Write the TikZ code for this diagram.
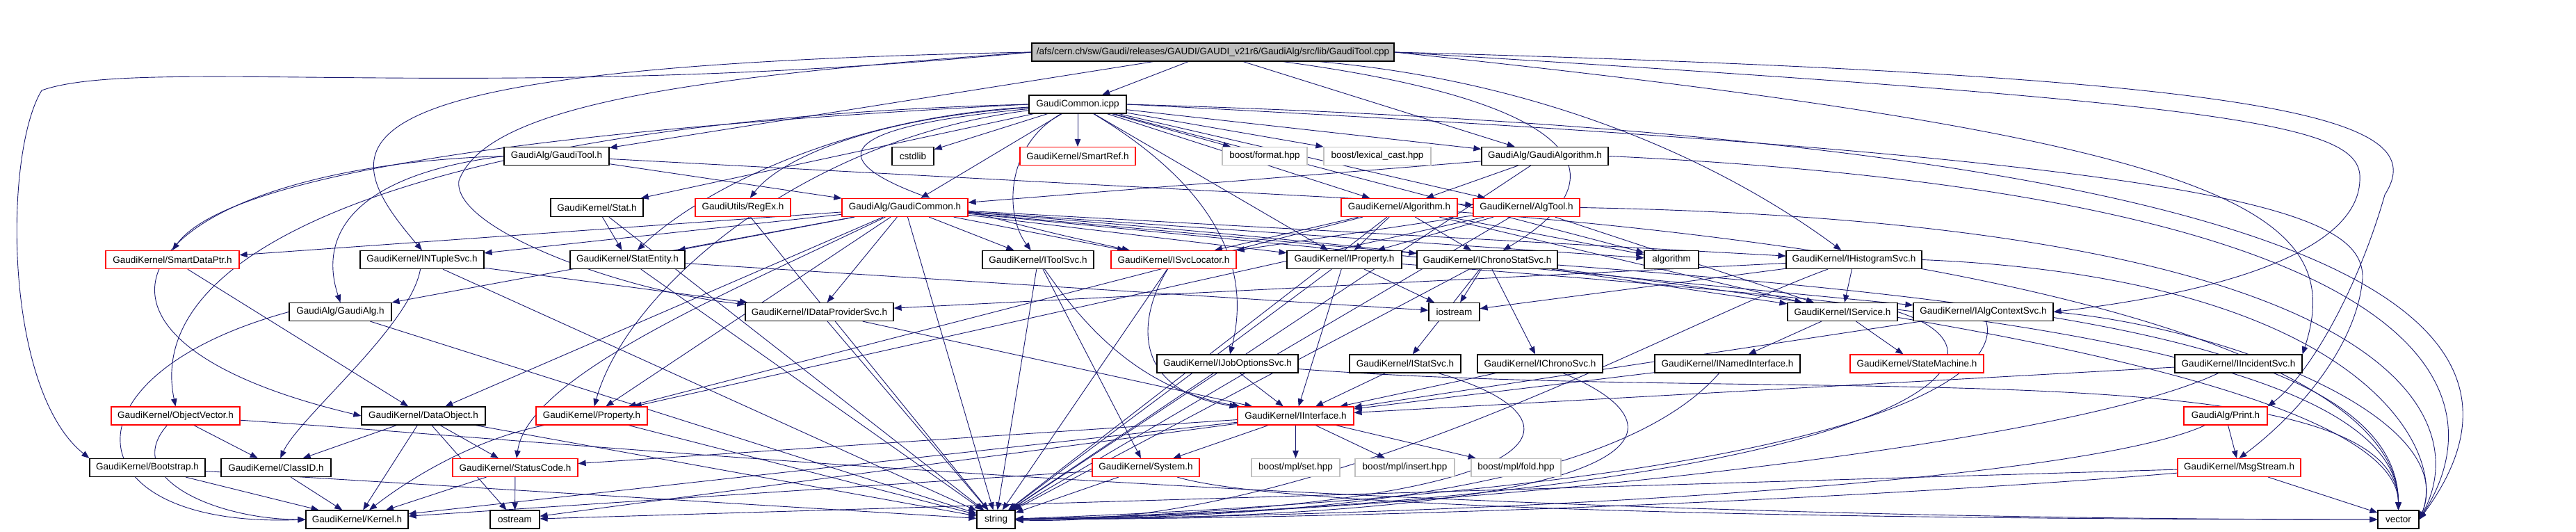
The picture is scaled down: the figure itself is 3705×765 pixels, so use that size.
\documentclass[tikz,border=0pt]{standalone}
\usepackage{fontspec}
\setmainfont{Liberation Sans}
\usetikzlibrary{arrows.meta}
\definecolor{edgeblue}{RGB}{25,25,112}
\definecolor{extgray}{RGB}{191,191,191}
\definecolor{rootgray}{RGB}{191,191,191}
\pgfdeclarelayer{edges}
\pgfsetlayers{edges,main}
\begin{document}
\begin{tikzpicture}[x=1pt, y=-1pt,
    >={Triangle[length=11pt,width=8.5pt]},
    file/.style={draw=black, fill=white, line width=1.2pt, minimum height=26pt,
      inner xsep=0pt, inner ysep=0pt, font=\fontsize{13.5}{16}\selectfont},
    trunc/.style={file, draw=red},
    ext/.style={file, draw=extgray},
    dep/.style={->, edgeblue, line width=0.9pt}]
    \useasboundingbox (0,0) rectangle (3705,765);

    % Source file and included implementation
    \node[file, fill=rootgray, minimum width=521pt] (root) at (1744.5,75) {/afs/cern.ch/sw/Gaudi/releases/GAUDI/GAUDI\_v21r6/GaudiAlg/src/lib/GaudiTool.cpp};
    \node[file, minimum width=140pt] (icpp) at (1550,150) {GaudiCommon.icpp};

    % Second rank
    \node[file, minimum width=151pt] (gtool) at (800.5,224.5) {GaudiAlg/GaudiTool.h};
    \node[file, minimum width=60pt] (cstdlib) at (1313,224.5) {cstdlib};
    \node[trunc, minimum width=166pt] (smartref) at (1550,224.5) {GaudiKernel/SmartRef.h};
    \node[ext, minimum width=122pt] (bformat) at (1819,224.5) {boost/format.hpp};
    \node[ext, minimum width=154pt] (blexcast) at (1981,224.5) {boost/lexical\_cast.hpp};
    \node[file, minimum width=182pt] (galgorithm) at (2222,224.5) {GaudiAlg/GaudiAlgorithm.h};

    % Third rank
    \node[file, minimum width=133pt] (stat) at (858.5,298.5) {GaudiKernel/Stat.h};
    \node[trunc, minimum width=137pt] (regex) at (1068.5,298.5) {GaudiUtils/RegEx.h};
    \node[trunc, minimum width=181pt] (gcommon) at (1301.5,298.5) {GaudiAlg/GaudiCommon.h};
    \node[trunc, minimum width=167pt] (algh) at (2012.5,298.5) {GaudiKernel/Algorithm.h};
    \node[trunc, minimum width=153pt] (algtool) at (2195.5,298.5) {GaudiKernel/AlgTool.h};

    % Fourth rank
    \node[trunc, minimum width=192pt] (smartdataptr) at (248,373.5) {GaudiKernel/SmartDataPtr.h};
    \node[file, minimum width=178pt] (intuple) at (607,373.5) {GaudiKernel/INTupleSvc.h};
    \node[file, minimum width=165pt] (statentity) at (902.5,373.5) {GaudiKernel/StatEntity.h};
    \node[file, minimum width=160pt] (itoolsvc) at (1493,373.5) {GaudiKernel/IToolSvc.h};
    \node[trunc, minimum width=180pt] (isvcloc) at (1688,373.5) {GaudiKernel/ISvcLocator.h};
    \node[file, minimum width=165pt] (iproperty) at (1933.5,373.5) {GaudiKernel/IProperty.h};
    \node[file, minimum width=202pt] (ichronostat) at (2139,373.5) {GaudiKernel/IChronoStatSvc.h};
    \node[file, minimum width=78pt] (stdalgo) at (2404,373.5) {algorithm};
    \node[file, minimum width=195pt] (ihisto) at (2666.5,373.5) {GaudiKernel/IHistogramSvc.h};

    % Fifth rank
    \node[file, minimum width=147pt] (gaudialg) at (489.5,448.5) {GaudiAlg/GaudiAlg.h};
    \node[file, minimum width=213pt] (idataprov) at (1178.5,448.5) {GaudiKernel/IDataProviderSvc.h};
    \node[file, minimum width=73pt] (iostream) at (2091.5,448.5) {iostream};
    \node[file, minimum width=158pt] (iservice) at (2650,448.5) {GaudiKernel/IService.h};
    \node[file, minimum width=201pt] (ialgctx) at (2852.5,448.5) {GaudiKernel/IAlgContextSvc.h};

    % Sixth rank
    \node[file, minimum width=203pt] (ijobopt) at (1765.5,523) {GaudiKernel/IJobOptionsSvc.h};
    \node[file, minimum width=160pt] (istatsvc) at (2021,523) {GaudiKernel/IStatSvc.h};
    \node[file, minimum width=180pt] (ichronosvc) at (2215,523) {GaudiKernel/IChronoSvc.h};
    \node[file, minimum width=209pt] (inamed) at (2484.5,523) {GaudiKernel/INamedInterface.h};
    \node[trunc, minimum width=192pt] (statemach) at (2757,523) {GaudiKernel/StateMachine.h};
    \node[file, minimum width=183pt] (iincident) at (3219.5,523) {GaudiKernel/IIncidentSvc.h};

    % Seventh rank
    \node[trunc, minimum width=185pt] (objvector) at (252.5,598) {GaudiKernel/ObjectVector.h};
    \node[file, minimum width=178pt] (dataobject) at (609,598) {GaudiKernel/DataObject.h};
    \node[trunc, minimum width=160pt] (property) at (851,598) {GaudiKernel/Property.h};
    \node[trunc, minimum width=167pt] (iinterface) at (1863.5,598) {GaudiKernel/IInterface.h};
    \node[trunc, minimum width=120pt] (print) at (3201,598) {GaudiAlg/Print.h};

    % Eighth rank
    \node[file, minimum width=166pt] (bootstrap) at (212,672.5) {GaudiKernel/Bootstrap.h};
    \node[file, minimum width=158pt] (classid) at (397,672.5) {GaudiKernel/ClassID.h};
    \node[trunc, minimum width=180pt] (statuscode) at (741,672.5) {GaudiKernel/StatusCode.h};
    \node[trunc, minimum width=154pt] (system) at (1648,672.5) {GaudiKernel/System.h};
    \node[ext, minimum width=127pt] (mplset) at (1863.5,672.5) {boost/mpl/set.hpp};
    \node[ext, minimum width=143pt] (mplinsert) at (2020.5,672.5) {boost/mpl/insert.hpp};
    \node[ext, minimum width=129pt] (mplfold) at (2180.5,672.5) {boost/mpl/fold.hpp};
    \node[trunc, minimum width=177pt] (msgstream) at (3220.5,672.5) {GaudiKernel/MsgStream.h};

    % Bottom rank
    \node[file, minimum width=147pt] (kernel) at (513.5,747) {GaudiKernel/Kernel.h};
    \node[file, minimum width=71pt] (ostream) at (740.5,747) {ostream};
    \node[file, minimum width=55pt] (string) at (1432.5,747) {string};
    \node[file, minimum width=59pt] (vector) at (3449.5,747) {vector};

    \begin{pgfonlayer}{edges}
    % Includes of the source file
    \foreach \t in {icpp,gtool,galgorithm}
        \draw[dep] (root) -- (\t);
    \draw[dep] (root) .. controls (2300,150) and (2330,260) .. (ichronostat);
    \draw[dep] (root) .. controls (2250,120) and (2500,250) .. (ihisto);
    \draw[dep] (root.west) .. controls (450,95) and (470,200) .. (intuple.north);
    \draw[dep] (root.west) .. controls (1000,110) and (700,150) .. (660,260)
        .. controls (650,330) and (900,420) .. (idataprov);
    \draw[dep] (root.west) .. controls (700,150) and (200,80) .. (60,130)
        .. controls (5,220) and (5,560) .. (bootstrap.north west);
    \draw[dep] (root.east) .. controls (3250,150) and (3400,180) .. (3394,260)
        .. controls (3390,360) and (3200,420) .. (ialgctx.east);
    \draw[dep] (root.east) .. controls (3300,110) and (3500,170) .. (3430,280)
        .. controls (3390,420) and (3320,540) .. (print.north east);
    \draw[dep] (root.east) .. controls (3200,200) and (3380,300) .. (iincident.north east);

    % GaudiCommon.icpp
    \foreach \t in {cstdlib,smartref,bformat,blexcast,galgorithm,stat,gcommon,algh,algtool,stdalgo,iproperty}
        \draw[dep] (icpp) -- (\t);
    \draw[dep] (icpp) .. controls (1445,210) and (1445,310) .. (itoolsvc);
    \draw[dep] (icpp) .. controls (1120,190) and (1160,260) .. (isvcloc);
    \draw[dep] (icpp) .. controls (1700,240) and (1810,350) .. (ijobopt);
    \draw[dep] (icpp) .. controls (1250,170) and (1120,230) .. (regex);
    \draw[dep] (icpp) .. controls (1200,170) and (1000,280) .. (statentity);
    \draw[dep] (icpp) .. controls (1150,200) and (900,420) .. (property);
    \draw[dep] (icpp.west) .. controls (700,170) and (200,330) .. (objvector.north);
    \draw[dep] (icpp.west) .. controls (700,190) and (320,260) .. (smartdataptr.north);
    \draw[dep] (icpp.east) .. controls (3200,230) and (3400,300) .. (3398,400)
        .. controls (3390,500) and (3300,600) .. (msgstream.north);
    \draw[dep] (icpp.east) .. controls (3350,200) and (3700,450) .. (vector.east);

    % GaudiAlg headers
    \foreach \t in {gcommon,algtool}
        \draw[dep] (gtool) -- (\t);
    \draw[dep] (gtool.west) .. controls (520,250) and (455,330) .. (gaudialg.north);
    \draw[dep] (gtool.west) .. controls (200,240) and (20,480) .. (dataobject.west);
    \foreach \t in {algh,gcommon,string}
        \draw[dep] (galgorithm) -- (\t);
    \draw[dep] (galgorithm.east) .. controls (3500,280) and (3600,560) .. (vector.east);
    \foreach \t in {gaudialg,intuple,smartdataptr,statentity,itoolsvc,isvcloc,idataprov,ichronostat,
        stdalgo,ihisto,ialgctx,iproperty,property,dataobject,string}
        \draw[dep] (gcommon) -- (\t);
    \draw[dep] (gcommon) .. controls (1050,420) and (760,540) .. (statuscode);
    \draw[dep] (gaudialg.west) .. controls (80,540) and (100,760) .. (kernel.west);
    \draw[dep] (gaudialg) -- (string);
    \draw[dep] (print) -- (msgstream);

    % Algorithm and tool bases
    \foreach \t in {iproperty,ichronostat,isvcloc,property,iservice,stdalgo,string}
        \draw[dep] (algh) -- (\t);
    \foreach \t in {iproperty,isvcloc,iservice,property,string}
        \draw[dep] (algtool) -- (\t);
    \draw[dep] (algtool.east) .. controls (3450,320) and (3560,600) .. (vector.east);

    % Arrivals at vector from above
    \foreach \s in {gcommon,algh,iproperty,ichronostat,ijobopt}
        \draw[dep] (\s) .. controls +(800,60) and +(0,-250) .. (vector);

    % Statistics and data
    \foreach \t in {statentity,string}
        \draw[dep] (stat) -- (\t);
    \draw[dep] (regex) -- (string);
    \foreach \t in {string,iostream}
        \draw[dep] (statentity) -- (\t);
    \draw[dep] (smartdataptr) -- (dataobject);
    \foreach \t in {idataprov,string}
        \draw[dep] (intuple) -- (\t);
    \draw[dep] (intuple) .. controls (590,470) and (430,600) .. (classid);
    \foreach \t in {iinterface,string}
        \draw[dep] (idataprov) -- (\t);
    \draw[dep] (objvector) -- (classid);
    \draw[dep] (objvector) .. controls +(-80,90) and +(-200,0) .. (kernel);
    \draw[dep] (objvector) .. controls +(600,40) and +(-1500,0) .. (vector);
    \foreach \t in {classid,statuscode,ostream,string,kernel}
        \draw[dep] (dataobject) -- (\t);
    \draw[dep] (property) .. controls (690,630) and (600,680) .. (kernel);
    \draw[dep] (property) -- (string);

    % Service interfaces
    \draw[dep] (itoolsvc) .. controls (1560,470) and (1640,560) .. (iinterface);
    \foreach \t in {system,string}
        \draw[dep] (itoolsvc) -- (\t);
    \draw[dep] (isvcloc) .. controls (1640,450) and (1620,560) .. (iinterface);
    \draw[dep] (isvcloc) -- (string);
    \foreach \t in {iinterface,iostream,string}
        \draw[dep] (iproperty) -- (\t);
    \foreach \t in {ichronosvc,istatsvc,iostream,iservice,string}
        \draw[dep] (ichronostat) -- (\t);
    \foreach \t in {iservice,idataprov,iostream}
        \draw[dep] (ihisto) -- (\t);
    \draw[dep] (ihisto.east) .. controls (3400,400) and (3520,650) .. (vector.east);
    \foreach \t in {inamed,statemach}
        \draw[dep] (iservice) -- (\t);
    \draw[dep] (ialgctx) -- (iinterface);
    \draw[dep] (ialgctx.east) .. controls (3200,470) and (3540,600) .. (vector.east);
    \foreach \t in {iinterface,string}
        \draw[dep] (ijobopt) -- (\t);
    \foreach \s in {istatsvc,ichronosvc,inamed,iincident}
        \draw[dep] (\s) -- (iinterface);

    % Arrivals at string along the bottom
    \draw[dep] (ihisto) .. controls (2400,470) and (1900,760) .. (string);
    \draw[dep] (iservice.east) .. controls (2950,520) and (2700,720) .. (string);
    \draw[dep] (ialgctx) .. controls (2880,540) and (2700,700) .. (string);
    \draw[dep] (istatsvc) .. controls (2290,600) and (2280,730) .. (string);
    \draw[dep] (ichronosvc) .. controls (2450,620) and (2380,745) .. (string);
    \draw[dep] (inamed) .. controls (2330,700) and (1900,745) .. (string);
    \draw[dep] (iincident) .. controls (2950,650) and (2000,740) .. (string);
    \draw[dep] (print) .. controls (3000,690) and (2200,740) .. (string);
    \draw[dep] (msgstream) .. controls (2900,700) and (2200,745) .. (string);

    % Kernel basics
    \foreach \t in {kernel,system,statuscode,ostream,mplset,mplinsert,mplfold}
        \draw[dep] (iinterface) -- (\t);
    \foreach \t in {kernel,string}
        \draw[dep] (system) -- (\t);
    \draw[dep] (system) .. controls +(200,60) and +(-800,0) .. (vector);
    \foreach \t in {vector,ostream}
        \draw[dep] (msgstream) -- (\t);
    \foreach \t in {kernel,string}
        \draw[dep] (bootstrap) -- (\t);
    \draw[dep] (classid) -- (kernel);
    \foreach \t in {kernel,ostream}
        \draw[dep] (statuscode) -- (\t);
    \end{pgfonlayer}
\end{tikzpicture}
\end{document}
